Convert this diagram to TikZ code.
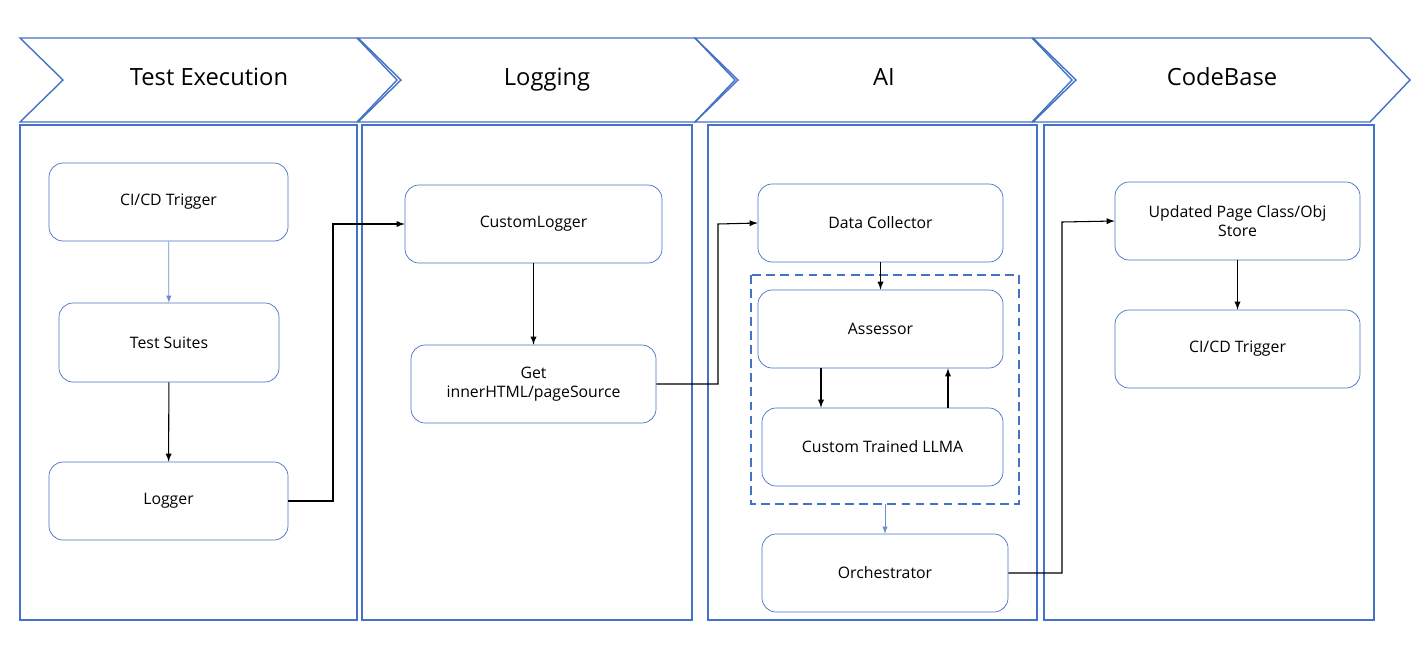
\documentclass[tikz,border=0pt]{standalone}
\usepackage{fontspec}
\setmainfont{Open Sans}
\usetikzlibrary{calc}
\definecolor{frameblue}{RGB}{68,114,196}
\begin{document}
\begin{tikzpicture}[x=0.02cm, y=-0.02cm,
    step box/.style={draw=frameblue, rounded corners=8pt, fill=white, align=center, font=\fontsize{9}{11}\selectfont},
    lane/.style={draw=frameblue, line width=0.8pt},
    head/.style={draw=frameblue, line width=0.8pt, fill=white},
    flow/.style={-latex, line width=0.6pt},
    soft flow/.style={-latex, draw=frameblue!80, line width=0.4pt}]

    \useasboundingbox (0,0) rectangle (1426,650);

    % Header chevrons
    \foreach \x/\name in {20/Test Execution, 358/Logging, 695/AI, 1033/CodeBase} {
        \draw[head] (\x,38) -- ++(337,0) -- ++(40,42) -- ++(-40,42) -- ++(-337,0) -- ++(43,-42) -- cycle;
        \node[font=\fontsize{13.5}{16}\selectfont, text height=1.6ex, text depth=0.45ex] at (\x+189,80) {\name};
    }

    % Lanes
    \draw[lane] (20,125) rectangle (357,620);
    \draw[lane] (362,125) rectangle (692,620);
    \draw[lane] (708,125) rectangle (1037,620);
    \draw[lane] (1044,125) rectangle (1374,620);

    % Test Execution
    \node[step box, minimum width=239*0.02cm, minimum height=78*0.02cm] (trigger) at (168.5,202) {CI/CD Trigger};
    \node[step box, minimum width=220*0.02cm, minimum height=79*0.02cm] (suites) at (169,342.5) {Test Suites};
    \node[step box, minimum width=239*0.02cm, minimum height=78*0.02cm] (logger) at (168.5,501) {Logger};

    % Logging
    \node[step box, minimum width=257*0.02cm, minimum height=78*0.02cm] (custom) at (533.5,224) {CustomLogger};
    \node[step box, minimum width=245*0.02cm, minimum height=78*0.02cm] (source) at (533.5,384) {Get\\innerHTML/pageSource};

    % AI
    \draw[frameblue, dashed, line width=1.2pt, dash pattern=on 5pt off 3pt] (751,275) rectangle (1019,504);
    \coordinate (dtop) at (880,275);
    \coordinate (dbot) at (885,504);
    \node[step box, minimum width=245*0.02cm, minimum height=78*0.02cm] (collector) at (880.5,223) {Data Collector};
    \node[step box, minimum width=245*0.02cm, minimum height=78*0.02cm] (assessor) at (880.5,329) {Assessor};
    \node[step box, minimum width=241*0.02cm, minimum height=78*0.02cm] (llma) at (882.5,447) {Custom Trained LLMA};
    \node[step box, minimum width=246*0.02cm, minimum height=78*0.02cm] (orch) at (885,573) {Orchestrator};

    % CodeBase
    \node[step box, minimum width=245*0.02cm, minimum height=78*0.02cm] (store) at (1237.5,221) {Updated Page Class/Obj\\Store};
    \node[step box, minimum width=245*0.02cm, minimum height=78*0.02cm] (trigger2) at (1237.5,349) {CI/CD Trigger};

    % Connectors
    \draw[soft flow] (trigger) -- (suites);
    \draw[flow] (suites) -- (logger);
    \draw[flow] (logger.east) -| (333,224) -- (custom.west);
    \draw[flow] (custom) -- (source);
    \draw[flow] (source.east) -| (718,224) -- (collector.west);
    \draw[flow] (collector) -- (assessor);
    \draw[flow] (assessor.south -| 821,0) -- (llma.north -| 821,0);
    \draw[flow] (llma.north -| 948,0) -- (assessor.south -| 948,0);
    \draw[soft flow] (dbot) -- (orch);
    \draw[flow] (orch.east) -| (1062,222) -- (store.west);
    \draw[flow] (store) -- (trigger2);

\end{tikzpicture}
\end{document}
